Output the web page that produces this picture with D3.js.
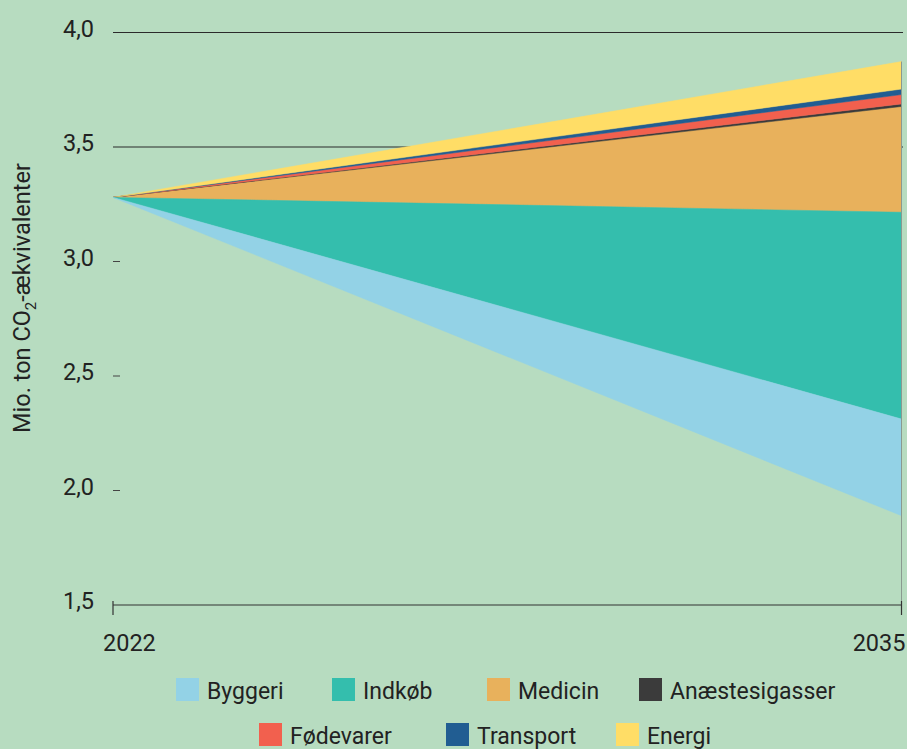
<!DOCTYPE html>
<html lang="da">
  <head>
    <meta charset="UTF-8" />
    <title>Udledning 2022-2035</title>
    <script src="https://cdn.jsdelivr.net/npm/d3@7"></script>
    <style>
      body {
        margin: 0;
        padding: 0;
        background: #b7dcc0;
      }
      text {
        font-family: Roboto, "Open Sans", sans-serif;
        fill: #222;
      }
    </style>
  </head>
  <body>
    <svg id="chart"></svg>

    <script>
      // data (mio. ton CO2-ækvivalenter)
      const years = [2022, 2035];
      const baseline = [3.28, 3.215]; // graensen mellem Medicin og Indkøb
      // oven for baseline (stigninger)
      const medicin = [0, 0.462];
      const anaestesigasser = [0, 0.011];
      const fodevarer = [0, 0.041];
      const transport = [0, 0.024];
      const energi = [0, 0.12];
      // under baseline (reduktioner)
      const indkob = [0, 0.903];
      const byggeri = [0, 0.422];

      const yTicks = [4.0, 3.5, 3.0, 2.5, 2.0, 1.5];
      const gridTicks = [4.0, 3.5];

      const upSeries = [
        { name: "Medicin", values: medicin, color: "#e8b15c" },
        { name: "Anæstesigasser", values: anaestesigasser, color: "#3b3b3b" },
        { name: "Fødevarer", values: fodevarer, color: "#f2604e" },
        { name: "Transport", values: transport, color: "#215d92" },
        { name: "Energi", values: energi, color: "#ffdd66" },
      ];
      const downSeries = [
        { name: "Indkøb", values: indkob, color: "#34bead" },
        { name: "Byggeri", values: byggeri, color: "#93d2e6" },
      ];

      const width = 907;
      const height = 749;
      const svg = d3.select("#chart").attr("width", width).attr("height", height);

      svg.append("rect").attr("width", width).attr("height", height).attr("fill", "#b7dcc0");

      const x = d3.scaleLinear().domain([2022, 2035]).range([113, 901.5]);
      const y = d3.scaleLinear().domain([1.5, 4.0]).range([605, 32.5]);

      // stak lagene fra baseline op og ned
      function stackUp(list, sign) {
        let cur = baseline.slice();
        return list.map((s) => {
          const lo = cur.slice();
          const hi = cur.map((v, i) => v + sign * s.values[i]);
          cur = hi;
          return { ...s, pts: years.map((yr, i) => ({ yr, lo: lo[i], hi: hi[i] })) };
        });
      }
      const layers = stackUp(upSeries, 1).concat(stackUp(downSeries, -1));

      // gitterlinjer og korte streger
      svg
        .selectAll(".grid")
        .data(gridTicks)
        .enter()
        .append("line")
        .attr("x1", x(2022))
        .attr("x2", x(2035) + 1.5)
        .attr("y1", (d) => y(d))
        .attr("y2", (d) => y(d))
        .attr("stroke", "#2b2b2b")
        .attr("stroke-width", 1.2);

      svg
        .selectAll(".tick")
        .data(yTicks.filter((d) => !gridTicks.includes(d) && d > 1.5))
        .enter()
        .append("line")
        .attr("x1", x(2022))
        .attr("x2", x(2022) + 7)
        .attr("y1", (d) => y(d))
        .attr("y2", (d) => y(d))
        .attr("stroke", "#444")
        .attr("stroke-width", 1);

      const area = d3
        .area()
        .x((d) => x(d.yr))
        .y0((d) => y(d.lo))
        .y1((d) => y(d.hi));

      svg
        .selectAll(".layer")
        .data(layers)
        .enter()
        .append("path")
        .attr("d", (d) => area(d.pts))
        .attr("fill", (d) => d.color)
        .attr("stroke", (d) => d.color)
        .attr("stroke-width", 0.5);

      // lodret linje ved 2035
      const topVal = layers[upSeries.length - 1].pts[1].hi;
      svg
        .append("line")
        .attr("x1", x(2035))
        .attr("x2", x(2035))
        .attr("y1", y(topVal))
        .attr("y2", y(1.5))
        .attr("stroke", "#8a9a90")
        .attr("stroke-width", 1);

      // x-akse
      svg
        .append("line")
        .attr("x1", x(2022))
        .attr("x2", x(2035))
        .attr("y1", y(1.5))
        .attr("y2", y(1.5))
        .attr("stroke", "#333")
        .attr("stroke-width", 1.2);
      svg
        .selectAll(".xtick")
        .data(years)
        .enter()
        .append("line")
        .attr("x1", (d) => x(d))
        .attr("x2", (d) => x(d))
        .attr("y1", y(1.5) - 4)
        .attr("y2", y(1.5) + 10)
        .attr("stroke", "#333")
        .attr("stroke-width", 1.2);

      svg
        .selectAll(".xlabel")
        .data(years)
        .enter()
        .append("text")
        .attr("x", (d, i) => (i == 0 ? x(d) - 10 : x(d) + 4))
        .attr("y", 651)
        .attr("text-anchor", (d, i) => (i == 0 ? "start" : "end"))
        .attr("font-size", "23.5px")
        .text((d) => d);

      // y-etiketter
      svg
        .selectAll(".ylabel")
        .data(yTicks)
        .enter()
        .append("text")
        .attr("x", 94)
        .attr("y", (d) => y(d) - 4)
        .attr("dy", "0.36em")
        .attr("text-anchor", "end")
        .attr("font-size", "23.5px")
        .text((d) => d3.format(".1f")(d).replace(".", ","));

      // y-titel
      const title = svg
        .append("text")
        .attr("transform", "translate(30,298) rotate(-90)")
        .attr("text-anchor", "middle")
        .attr("font-size", "23.5px");
      title.append("tspan").text("Mio. ton CO");
      title.append("tspan").attr("font-size", "15px").attr("dy", 6).text("2");
      title.append("tspan").attr("dy", -6).text("-ækvivalenter");

      // forklaring
      const legendRows = [
        [
          { s: downSeries[1], x: 176 },
          { s: downSeries[0], x: 332 },
          { s: upSeries[0], x: 487 },
          { s: upSeries[1], x: 639 },
        ],
        [
          { s: upSeries[2], x: 259 },
          { s: upSeries[3], x: 446 },
          { s: upSeries[4], x: 616 },
        ],
      ];
      legendRows.forEach((row, r) => {
        const top = 678 + r * 45;
        const g = svg.append("g");
        row.forEach((item) => {
          g.append("rect")
            .attr("x", item.x)
            .attr("y", top)
            .attr("width", 23)
            .attr("height", 23)
            .attr("fill", item.s.color);
          g.append("text")
            .attr("x", item.x + 31)
            .attr("y", top + 20.5)
            .attr("font-size", "23px")
            .text(item.s.name);
        });
      });
    </script>
  </body>
</html>
